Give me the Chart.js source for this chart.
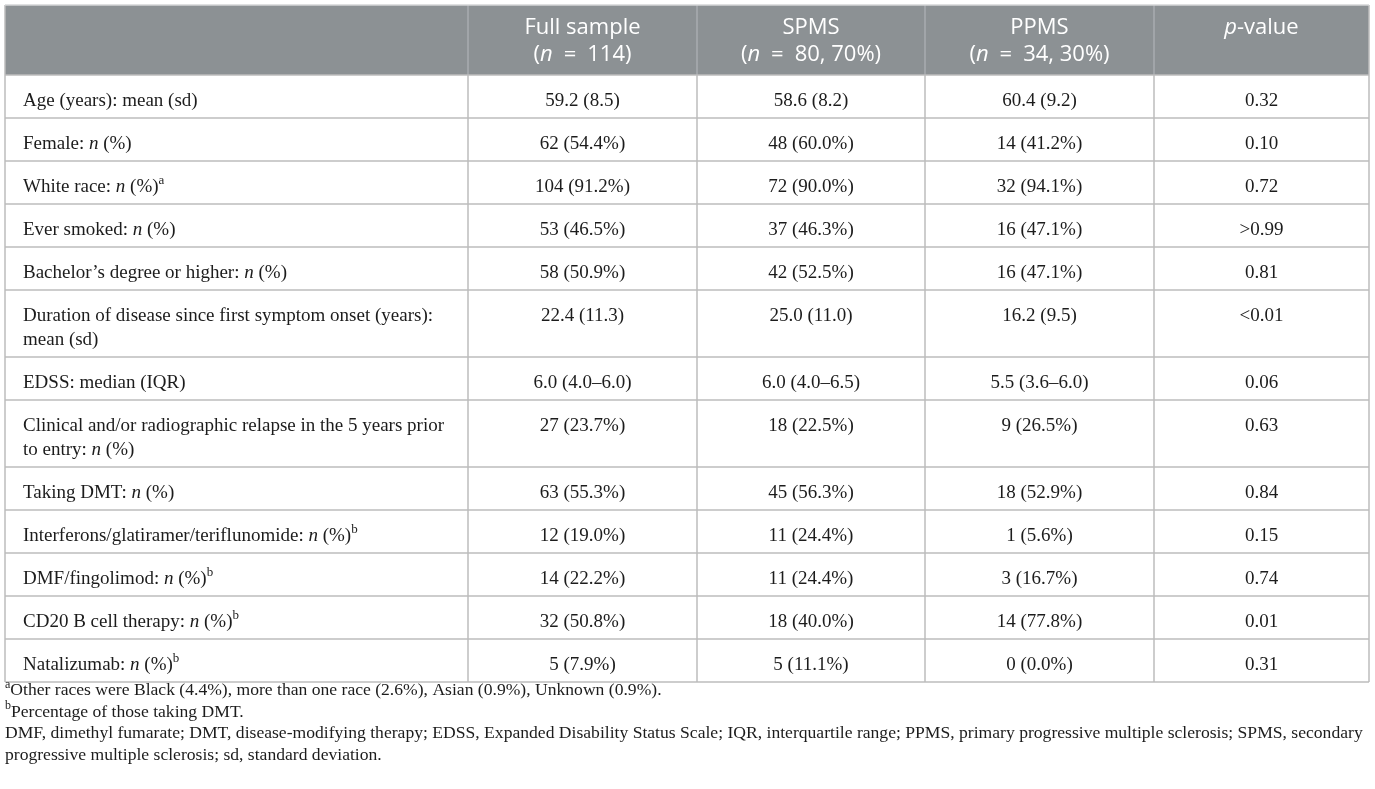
<!DOCTYPE html>
<html>
<head>
<meta charset="utf-8">
<script src="https://cdn.jsdelivr.net/npm/chart.js@4"></script>
<style>
  html, body { margin: 0; padding: 0; background: #fff; }
  #wrap { width: 1375px; height: 789px; }
</style>
</head>
<body>
<div id="wrap"><canvas id="table_chart" width="1375" height="789"></canvas></div>
<script>
// Table data. "_x_" = italic, "^a" = superscript.
const columnTitles = ["Full sample", "SPMS", "PPMS", "_p_-value"];
const columnSubtitles = ["(_n_\u2002=\u2002114)", "(_n_\u2002=\u200280, 70%)", "(_n_\u2002=\u200234, 30%)", ""];

const rowLabels = [
    ["Age (years): mean (sd)"],
    ["Female: _n_ (%)"],
    ["White race: _n_ (%)^a"],
    ["Ever smoked: _n_ (%)"],
    ["Bachelor\u2019s degree or higher: _n_ (%)"],
    ["Duration of disease since first symptom onset (years):", "mean (sd)"],
    ["EDSS: median (IQR)"],
    ["Clinical and/or radiographic relapse in the 5 years prior", "to entry: _n_ (%)"],
    ["Taking DMT: _n_ (%)"],
    ["Interferons/glatiramer/teriflunomide: _n_ (%)^b"],
    ["DMF/fingolimod: _n_ (%)^b"],
    ["CD20 B cell therapy: _n_ (%)^b"],
    ["Natalizumab: _n_ (%)^b"]
];

const fullSample = ["59.2 (8.5)", "62 (54.4%)", "104 (91.2%)", "53 (46.5%)", "58 (50.9%)",
    "22.4 (11.3)", "6.0 (4.0\u20136.0)", "27 (23.7%)", "63 (55.3%)", "12 (19.0%)",
    "14 (22.2%)", "32 (50.8%)", "5 (7.9%)"];
const spms = ["58.6 (8.2)", "48 (60.0%)", "72 (90.0%)", "37 (46.3%)", "42 (52.5%)",
    "25.0 (11.0)", "6.0 (4.0\u20136.5)", "18 (22.5%)", "45 (56.3%)", "11 (24.4%)",
    "11 (24.4%)", "18 (40.0%)", "5 (11.1%)"];
const ppms = ["60.4 (9.2)", "14 (41.2%)", "32 (94.1%)", "16 (47.1%)", "16 (47.1%)",
    "16.2 (9.5)", "5.5 (3.6\u20136.0)", "9 (26.5%)", "18 (52.9%)", "1 (5.6%)",
    "3 (16.7%)", "14 (77.8%)", "0 (0.0%)"];
const pValues = ["0.32", "0.10", "0.72", ">0.99", "0.81", "<0.01", "0.06", "0.63",
    "0.84", "0.15", "0.74", "0.01", "0.31"];

const footnotes = [
    "^aOther races were Black (4.4%), more than one race (2.6%), Asian (0.9%), Unknown (0.9%).",
    "^bPercentage of those taking DMT.",
    "DMF, dimethyl fumarate; DMT, disease-modifying therapy; EDSS, Expanded Disability Status Scale; IQR, interquartile range; PPMS, primary progressive multiple sclerosis; SPMS, secondary",
    "progressive multiple sclerosis; sd, standard deviation."
];

// Layout (table units map 1:1 onto the scales)
const colEdges = [0, 463, 692, 920, 1149, 1364];
const headerHeight = 70;
const rowHeight = 43;
const doubleRowHeight = 67;

const rowEdges = [0, headerHeight];
rowLabels.forEach(lines => {
    rowEdges.push(rowEdges[rowEdges.length - 1] + (lines.length > 1 ? doubleRowHeight : rowHeight));
});
const tableHeight = rowEdges[rowEdges.length - 1];

const SERIF = "'Liberation Serif', 'Times New Roman', serif";
const SANS = "'Open Sans', 'Noto Sans', sans-serif";
const INK = "#1c1c1c";

function parseRich(text) {
    return text.split(/(_[^_]+_|\^[a-z])/).filter(s => s.length).map(s => {
        if (s[0] === "_" && s.length > 2) return { t: s.slice(1, -1), italic: true };
        if (s[0] === "^") return { t: s.slice(1), sup: true };
        return { t: s };
    });
}

function fontFor(seg, size, family) {
    const sz = seg.sup ? Math.round(size * 0.68) : size;
    return (seg.italic ? "italic " : "") + sz + "px " + family;
}

function drawRich(ctx, text, x, y, align, size, family, color) {
    const segs = parseRich(text);
    let width = 0;
    segs.forEach(s => { ctx.font = fontFor(s, size, family); s.w = ctx.measureText(s.t).width; width += s.w; });
    let cx = align === "center" ? x - width / 2 : x;
    ctx.fillStyle = color;
    ctx.textAlign = "left";
    ctx.textBaseline = "alphabetic";
    segs.forEach(s => {
        ctx.font = fontFor(s, size, family);
        ctx.fillText(s.t, cx, s.sup ? y - size * 0.4 : y);
        cx += s.w;
    });
}

const tablePlugin = {
    id: "tablePlugin",
    afterDraw(chart) {
        const { ctx, chartArea } = chart;
        const xs = chart.scales.x;
        const ys = chart.scales.y;
        const px = v => xs.getPixelForValue(v);
        const py = v => ys.getPixelForValue(v);
        ctx.save();

        // header band
        ctx.fillStyle = "#8c9194";
        ctx.fillRect(px(0), py(0), px(colEdges[5]) - px(0), py(headerHeight) - py(0));

        // header column dividers
        ctx.strokeStyle = "#a9adb0";
        ctx.lineWidth = 1.5;
        colEdges.slice(1, 5).forEach(c => {
            ctx.beginPath();
            ctx.moveTo(px(c), py(0));
            ctx.lineTo(px(c), py(headerHeight));
            ctx.stroke();
        });

        // body grid
        ctx.strokeStyle = "#bdbdbd";
        ctx.lineWidth = 1.5;
        rowEdges.slice(1).forEach(r => {
            ctx.beginPath();
            ctx.moveTo(px(0), py(r));
            ctx.lineTo(px(colEdges[5]), py(r));
            ctx.stroke();
        });
        colEdges.forEach(c => {
            ctx.beginPath();
            ctx.moveTo(px(c), py(c === 0 || c === colEdges[5] ? 0 : headerHeight));
            ctx.lineTo(px(c), py(tableHeight));
            ctx.stroke();
        });
        // top border
        ctx.strokeStyle = "#d4d6d7";
        ctx.beginPath();
        ctx.moveTo(px(0), py(0));
        ctx.lineTo(px(colEdges[5]), py(0));
        ctx.stroke();

        // header text
        columnTitles.forEach((title, i) => {
            const cx = (colEdges[i + 1] + colEdges[i + 2]) / 2;
            drawRich(ctx, title, px(cx), py(29), "center", 22, SANS, "#ffffff");
            if (columnSubtitles[i]) {
                drawRich(ctx, columnSubtitles[i], px(cx), py(56), "center", 22, SANS, "#ffffff");
            }
        });

        // body text
        const valueCols = [fullSample, spms, ppms, pValues];
        rowLabels.forEach((lines, r) => {
            const top = rowEdges[r + 1];
            lines.forEach((line, k) => {
                drawRich(ctx, line, px(18), py(top + 31 + k * 24), "left", 19, SERIF, INK);
            });
            valueCols.forEach((col, c) => {
                const cx = (colEdges[c + 1] + colEdges[c + 2]) / 2;
                drawRich(ctx, col[r], px(cx), py(top + 31), "center", 19, SERIF, INK);
            });
        });

        // footnotes below the table
        footnotes.forEach((note, i) => {
            drawRich(ctx, note, chartArea.left, chartArea.bottom + 13 + i * 21.5, "left", 17.6, SERIF, INK);
        });

        ctx.restore();
    }
};

const tableChart = new Chart(document.getElementById("table_chart"), {
    type: "scatter",
    data: { datasets: [] },
    options: {
        responsive: false,
        animation: false,
        layout: { padding: { left: 5, right: 6, top: 5, bottom: 789 - 5 - tableHeight } },
        plugins: { legend: { display: false }, tooltip: { enabled: false } },
        scales: {
            x: { type: "linear", display: false, min: 0, max: colEdges[5] },
            y: { type: "linear", display: false, min: 0, max: tableHeight, reverse: true }
        }
    },
    plugins: [tablePlugin]
});
</script>
</body>
</html>
